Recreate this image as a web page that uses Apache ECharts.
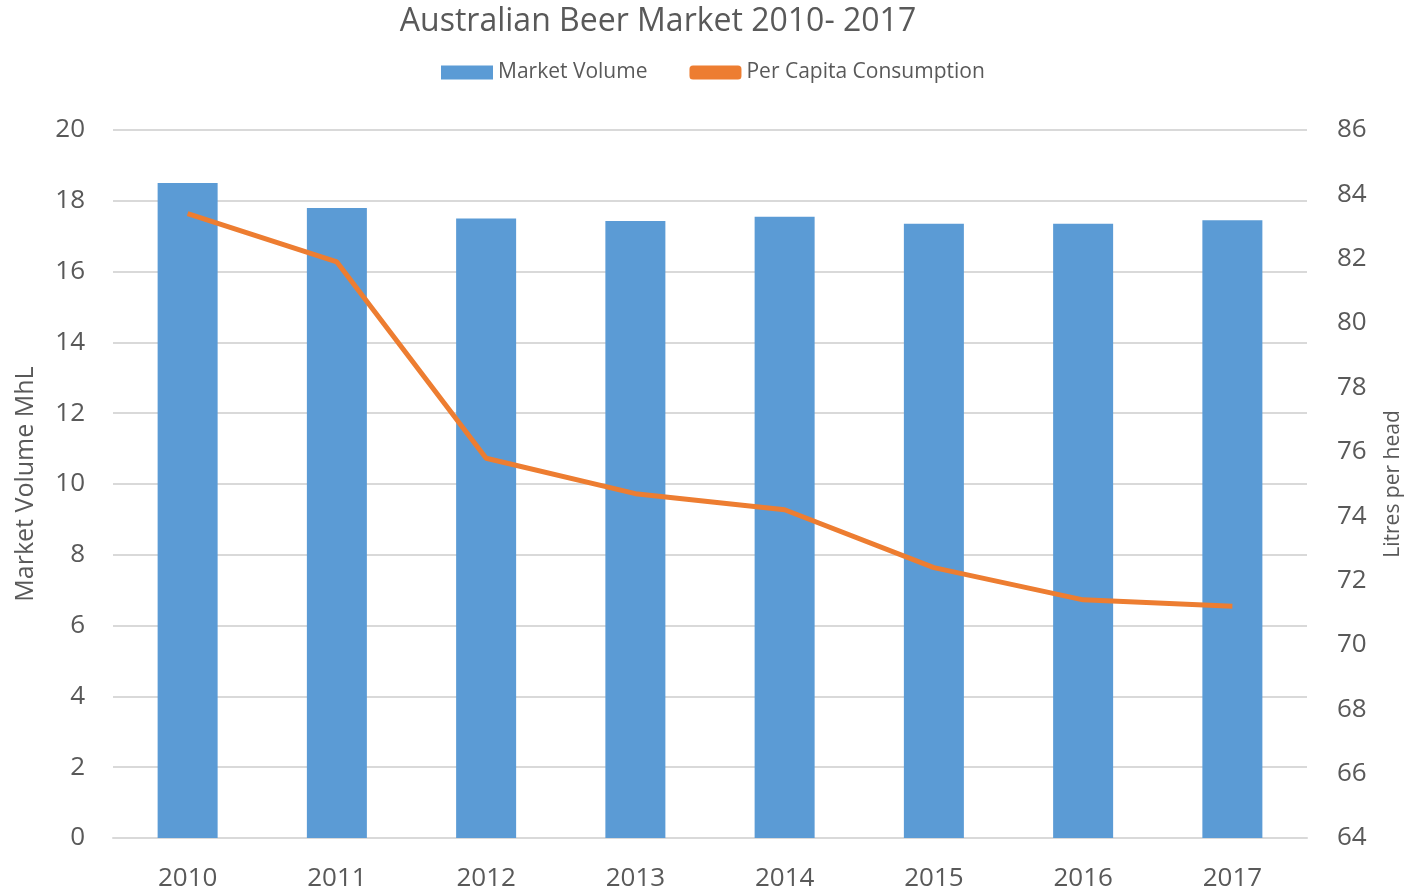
<!DOCTYPE html>
<html>
<head>
<meta charset="UTF-8">
<title>Australian Beer Market</title>
<script src="https://cdn.jsdelivr.net/npm/echarts@6/dist/echarts.min.js"></script>
<style>
  html, body { margin: 0; padding: 0; background: #fff; }
  #main { width: 1408px; height: 893px; }
</style>
</head>
<body>
<div id="main"></div>
<script>
var years = ['2010', '2011', '2012', '2013', '2014', '2015', '2016', '2017'];
var marketVolume = [18.5, 17.8, 17.5, 17.43, 17.55, 17.35, 17.35, 17.45];
var perCapita = [83.4, 81.9, 75.8, 74.7, 74.2, 72.4, 71.4, 71.2];

var font = 'Open Sans, Lato, sans-serif';
var chart = echarts.init(document.getElementById('main'));

chart.setOption({
  animation: false,
  textStyle: { fontFamily: font },
  title: {
    text: 'Australian Beer Market 2010- 2017',
    left: 653, top: 1, textAlign: 'center',
    textStyle: { fontFamily: font, fontSize: 32, fontWeight: 'normal', color: '#595959' }
  },
  legend: {
    top: 57, left: 436, itemGap: 42, itemWidth: 52, itemHeight: 14,
    textStyle: { fontFamily: font, fontSize: 21, color: '#595959' },
    data: [
      { name: 'Market Volume', icon: 'rect' },
      { name: 'Per Capita Consumption', icon: 'roundRect', itemStyle: { color: '#ED7D31' } }
    ]
  },
  grid: { left: 113, right: 101, top: 130, bottom: 55, containLabel: false, outerBoundsMode: 'none' },
  xAxis: {
    type: 'category',
    data: years,
    axisLine: { lineStyle: { color: '#d9d9d9', width: 2 } },
    axisTick: { show: false },
    axisLabel: { fontSize: 26, color: '#595959', margin: 28 }
  },
  yAxis: [
    {
      type: 'value', min: 0, max: 20, interval: 2,
      name: 'Market Volume MhL', nameLocation: 'middle', nameGap: 75,
      nameTextStyle: { fontSize: 25, color: '#595959' },
      axisLine: { show: false }, axisTick: { show: false },
      axisLabel: { fontSize: 26, color: '#595959', margin: 28 },
      splitLine: { lineStyle: { color: '#d9d9d9', width: 2 } }
    },
    {
      type: 'value', min: 64, max: 86, interval: 2,
      name: 'Litres per head', nameLocation: 'middle', nameGap: 76,
      nameTextStyle: { fontSize: 21, color: '#595959' },
      axisLine: { show: false }, axisTick: { show: false },
      axisLabel: { fontSize: 26, color: '#595959', margin: 30 },
      splitLine: { show: false }
    }
  ],
  series: [
    {
      name: 'Market Volume', type: 'bar', data: marketVolume,
      barWidth: 60, itemStyle: { color: '#5B9BD5' }
    },
    {
      name: 'Per Capita Consumption', type: 'line', yAxisIndex: 1, data: perCapita,
      symbol: 'none', lineStyle: { color: '#ED7D31', width: 5 }, itemStyle: { color: '#ED7D31' }
    }
  ]
});
</script>
</body>
</html>
